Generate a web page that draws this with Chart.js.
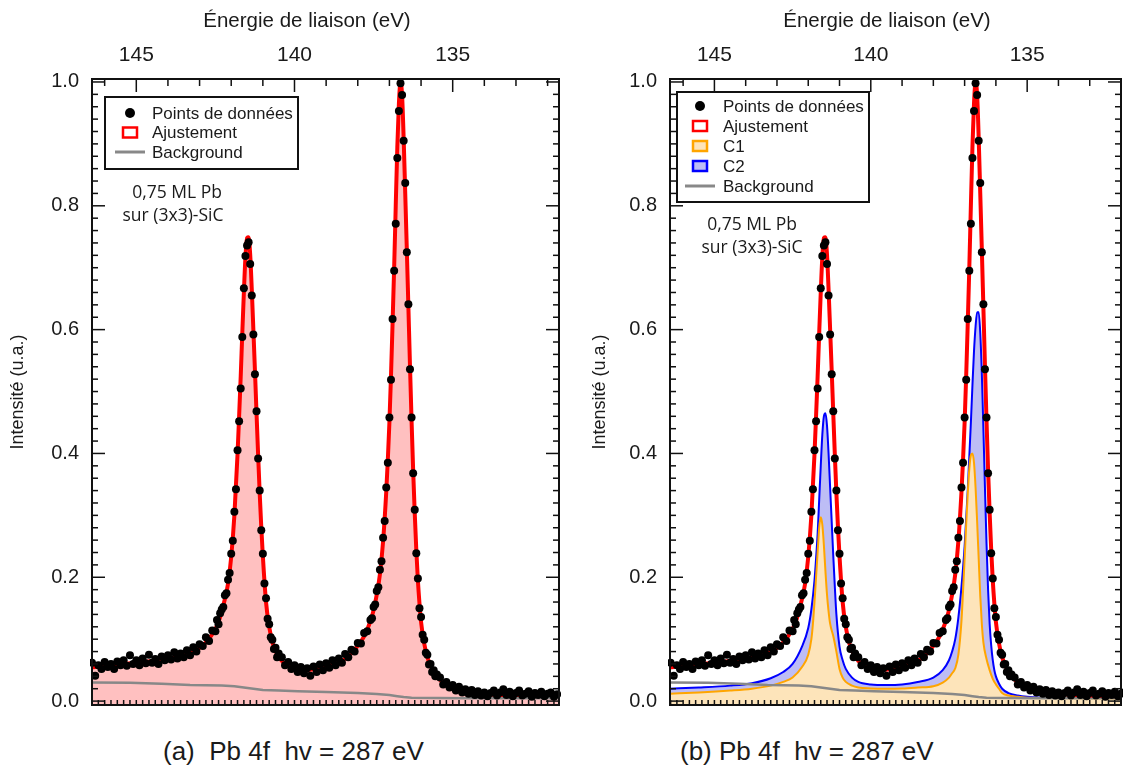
<!DOCTYPE html>
<html lang="fr">
<head>
<meta charset="utf-8">
<title>Pb 4f - 0,75 ML Pb sur (3x3)-SiC</title>
<script src="https://cdn.jsdelivr.net/npm/chart.js@4.4.1/dist/chart.umd.min.js"></script>
<style>
  body { margin: 0; width: 1129px; height: 772px; background: #fff; position: relative; overflow: hidden;
         font-family: "Liberation Sans", Arial, sans-serif; color: #1a1a1a; }
  canvas { position: absolute; top: 0; }
  #chartA { left: 0; }
  #chartB { left: 570px; }
  .note { position: absolute; font-family: "Open Sans", sans-serif; font-size: 17.5px; transform: translate(-50%, -50%); white-space: nowrap; color: #1a1a1a; }
  .xtitle { position: absolute; top: 20px; font-size: 20.5px; transform: translate(-50%, -50%); white-space: nowrap; color: #1a1a1a; }
  .caption { position: absolute; top: 736px; font-size: 26px; white-space: pre; color: #1a1a1a; }
</style>
</head>
<body>
<canvas id="chartA" width="570" height="730"></canvas>
<canvas id="chartB" width="559" height="730"></canvas>

<div class="xtitle" style="left:307px">Énergie de liaison (eV)</div>
<div class="xtitle" style="left:887px">Énergie de liaison (eV)</div>

<div class="note" style="left:177px;top:191px">0,75 ML Pb</div>
<div class="note" style="left:173px;top:214px">sur (3x3)-SiC</div>
<div class="note" style="left:752px;top:223px">0,75 ML Pb</div>
<div class="note" style="left:752px;top:246px">sur (3x3)-SiC</div>

<div class="caption" style="left:163px">(a)  Pb 4f  hv = 287 eV</div>
<div class="caption" style="left:680px">(b) Pb 4f  hv = 287 eV</div>

<script>
// measured points (binding energy in eV, normalised intensity)
const energies = [
  146.4, 146.3, 146.2, 146.1, 146.0, 145.9, 145.8, 145.7, 145.6, 145.5,
  145.4, 145.3, 145.2, 145.1, 145.0, 144.9, 144.8, 144.7, 144.6, 144.5,
  144.4, 144.3, 144.2, 144.1, 144.0, 143.9, 143.8, 143.7, 143.6, 143.5,
  143.4, 143.3, 143.2, 143.1, 143.0, 142.9, 142.8, 142.7, 142.6, 142.5,
  142.45, 142.4, 142.35, 142.3, 142.25, 142.2, 142.15, 142.1, 142.05, 142.0,
  141.95, 141.9, 141.85, 141.8, 141.75, 141.7, 141.65, 141.6, 141.55, 141.5,
  141.45, 141.4, 141.35, 141.3, 141.25, 141.2, 141.15, 141.1, 141.05, 141.0,
  140.95, 140.9, 140.85, 140.8, 140.75, 140.7, 140.65, 140.6, 140.55, 140.5,
  140.4, 140.3, 140.2, 140.1, 140.0, 139.9, 139.8, 139.7, 139.6, 139.5,
  139.4, 139.3, 139.2, 139.1, 139.0, 138.9, 138.8, 138.7, 138.6, 138.5,
  138.4, 138.3, 138.2, 138.1, 138.0, 137.9, 137.8, 137.7, 137.6,
  137.55, 137.5, 137.45, 137.4, 137.35, 137.3, 137.25, 137.2, 137.15, 137.1,
  137.05, 137.0, 136.95, 136.9, 136.85, 136.8, 136.75, 136.7, 136.65, 136.6,
  136.55, 136.5, 136.45, 136.4, 136.35, 136.3, 136.25, 136.2, 136.15, 136.1,
  136.05, 136.0, 135.95, 135.9, 135.85, 135.8, 135.75, 135.7, 135.65, 135.6,
  135.55, 135.5,
  135.4, 135.3, 135.2, 135.1, 135.0, 134.9, 134.8, 134.7, 134.6, 134.5,
  134.4, 134.3, 134.2, 134.1, 134.0, 133.9, 133.8, 133.7, 133.6, 133.5,
  133.4, 133.3, 133.2, 133.1, 133.0, 132.9, 132.8, 132.7, 132.6, 132.5,
  132.4, 132.3, 132.2, 132.1, 132.0, 131.9, 131.8, 131.7
];
const intensities = [
  0.062, 0.041, 0.058, 0.052, 0.063, 0.055, 0.060, 0.052, 0.064, 0.058,
  0.066, 0.057, 0.074, 0.060, 0.066, 0.058, 0.069, 0.061, 0.075, 0.062,
  0.068, 0.060, 0.072, 0.066, 0.074, 0.067, 0.079, 0.069, 0.077, 0.071,
  0.082, 0.074, 0.087, 0.080, 0.092, 0.089, 0.103, 0.097, 0.114, 0.113,
  0.131, 0.124, 0.142, 0.148, 0.152, 0.171, 0.174, 0.196, 0.207, 0.238,
  0.259, 0.306, 0.342, 0.405, 0.452, 0.505, 0.588, 0.667, 0.719, 0.736,
  0.741, 0.706, 0.655, 0.592, 0.528, 0.468, 0.392, 0.340, 0.276, 0.238,
  0.190, 0.166, 0.133, 0.124, 0.103, 0.099, 0.084, 0.086, 0.071, 0.077,
  0.071, 0.058, 0.063, 0.052, 0.058, 0.047, 0.055, 0.045, 0.053, 0.041,
  0.056, 0.047, 0.059, 0.050, 0.061, 0.054, 0.066, 0.058, 0.069, 0.062,
  0.076, 0.071, 0.083, 0.080, 0.094, 0.093, 0.110, 0.113, 0.131,
  0.134, 0.152, 0.156, 0.178, 0.184, 0.212, 0.226, 0.264, 0.291, 0.345,
  0.385, 0.458, 0.519, 0.617, 0.695, 0.771, 0.877, 0.953, 0.998, 0.979,
  0.905, 0.837, 0.725, 0.641, 0.536, 0.458, 0.368, 0.309, 0.239, 0.198,
  0.150, 0.136, 0.107, 0.099, 0.078, 0.075, 0.059, 0.060, 0.047, 0.050,
  0.040, 0.043,
  0.038, 0.027, 0.031, 0.022, 0.026, 0.017, 0.023, 0.014, 0.019, 0.012,
  0.018, 0.010, 0.016, 0.009, 0.014, 0.008, 0.013, 0.017, 0.009, 0.014,
  0.019, 0.010, 0.015, 0.008, 0.013, 0.017, 0.009, 0.012, 0.016, 0.007,
  0.013, 0.010, 0.015, 0.008, 0.012, 0.014, 0.007, 0.011
];

// fitted envelope
const fitEnergies = [
  146.45, 146.0, 145.5, 145.0, 144.5, 144.0, 143.5, 143.0, 142.8, 142.6,
  142.4, 142.3, 142.2, 142.1, 142.0, 141.9, 141.8, 141.75, 141.7, 141.65,
  141.6, 141.55, 141.5, 141.45, 141.4, 141.35, 141.3, 141.25, 141.2, 141.15,
  141.1, 141.05, 141.0, 140.9, 140.8, 140.7, 140.6, 140.4, 140.2, 140.0,
  139.6, 139.2, 138.8, 138.6, 138.4, 138.2, 138.0, 137.8, 137.6, 137.5,
  137.4, 137.3, 137.2, 137.1, 137.05, 137.0, 136.95, 136.9, 136.85, 136.8,
  136.75, 136.7, 136.65, 136.6, 136.55, 136.5, 136.45, 136.4, 136.35, 136.3,
  136.25, 136.2, 136.15, 136.1, 136.05, 136.0, 135.9, 135.8, 135.7, 135.6,
  135.5, 135.3, 135.1, 134.9, 134.6, 134.3, 134.0, 133.5, 133.0, 132.5, 132.0, 131.6
];
const fitValues = [
  0.054, 0.057, 0.0595, 0.062, 0.0648, 0.0685, 0.0738, 0.086, 0.095, 0.108,
  0.128, 0.145, 0.165, 0.190, 0.233, 0.300, 0.399, 0.460, 0.524, 0.594,
  0.660, 0.717, 0.748, 0.749, 0.721, 0.665, 0.600, 0.534, 0.465, 0.398,
  0.336, 0.281, 0.234, 0.160, 0.120, 0.096, 0.081, 0.065, 0.058, 0.054,
  0.0506, 0.0535, 0.0587, 0.0627, 0.0684, 0.0775, 0.0894, 0.1045, 0.129, 0.147,
  0.172, 0.205, 0.258, 0.338, 0.390, 0.450, 0.525, 0.610, 0.700, 0.800,
  0.895, 0.965, 0.999, 0.979, 0.909, 0.820, 0.730, 0.636, 0.542, 0.453,
  0.373, 0.304, 0.244, 0.195, 0.158, 0.128, 0.093, 0.071, 0.057, 0.047,
  0.040, 0.030, 0.024, 0.020, 0.016, 0.0136, 0.0118, 0.0098, 0.009, 0.0084, 0.0078, 0.0075
];

// background
const bgEnergies = [146.45, 145.2, 144.2, 143.3, 142.3, 141.9, 141.6, 141.3, 141.0, 140.5,
  139.9, 139.0, 138.0, 137.4, 137.0, 136.75, 136.55, 136.3, 135.5, 134.5, 131.6];
const bgValues = [0.030, 0.0295, 0.028, 0.026, 0.025, 0.024, 0.022, 0.020, 0.018, 0.017,
  0.016, 0.0145, 0.013, 0.0115, 0.010, 0.008, 0.0065, 0.0055, 0.005, 0.0045, 0.0045];

// component C1 (orange)
const c1Energies = [
  146.45, 145.5, 144.5, 143.8, 143.2, 142.8, 142.5, 142.2, 142.0, 141.9,
  141.85, 141.8, 141.75, 141.7, 141.65, 141.6, 141.55, 141.5, 141.45, 141.4,
  141.35, 141.3, 141.2, 141.1, 141.0, 140.9, 140.8, 140.6, 140.4, 140.0,
  139.5, 139.0, 138.5, 138.0, 137.7, 137.5, 137.4, 137.3, 137.2, 137.1,
  137.05, 137.0, 136.95, 136.9, 136.85, 136.8, 136.75, 136.7, 136.65, 136.6,
  136.55, 136.5, 136.45, 136.4, 136.3, 136.2, 136.1, 136.0, 135.9, 135.8,
  135.6, 135.3, 135.0, 134.0, 131.6
];
const c1Values = [
  0.012, 0.014, 0.017, 0.020, 0.025, 0.031, 0.038, 0.055, 0.075, 0.100,
  0.125, 0.160, 0.200, 0.240, 0.280, 0.297, 0.285, 0.252, 0.210, 0.172,
  0.145, 0.125, 0.105, 0.080, 0.052, 0.038, 0.031, 0.025, 0.022, 0.0205,
  0.020, 0.0205, 0.022, 0.024, 0.030, 0.038, 0.045, 0.053, 0.075, 0.130,
  0.178, 0.230, 0.285, 0.335, 0.375, 0.397, 0.400, 0.385, 0.345, 0.290,
  0.230, 0.170, 0.125, 0.095, 0.068, 0.050, 0.036, 0.027, 0.020, 0.013,
  0.009, 0.007, 0.0055, 0.005, 0.0045
];

// component C2 (blue)
const c2Energies = [
  146.45, 145.5, 144.5, 143.8, 143.2, 142.8, 142.5, 142.2, 142.0, 141.9,
  141.8, 141.75, 141.7, 141.65, 141.6, 141.55, 141.5, 141.45, 141.4, 141.35,
  141.3, 141.25, 141.2, 141.15, 141.1, 141.0, 140.9, 140.8, 140.6, 140.4,
  140.0, 139.5, 139.0, 138.5, 138.0, 137.7, 137.5, 137.4, 137.3, 137.2,
  137.1, 137.0, 136.9, 136.8, 136.75, 136.7, 136.65, 136.6, 136.55, 136.5,
  136.45, 136.4, 136.35, 136.3, 136.25, 136.2, 136.15, 136.1, 136.05, 136.0,
  135.9, 135.8, 135.6, 135.3, 135.0, 134.5, 133.5, 131.6
];
const c2Values = [
  0.020, 0.022, 0.025, 0.029, 0.037, 0.047, 0.060, 0.088, 0.118, 0.148,
  0.195, 0.230, 0.270, 0.325, 0.380, 0.430, 0.460, 0.465, 0.445, 0.400,
  0.345, 0.290, 0.235, 0.185, 0.140, 0.088, 0.066, 0.052, 0.038, 0.031,
  0.027, 0.026, 0.027, 0.031, 0.038, 0.050, 0.066, 0.080, 0.100, 0.135,
  0.185, 0.250, 0.340, 0.450, 0.510, 0.565, 0.605, 0.628, 0.628, 0.595,
  0.530, 0.440, 0.345, 0.255, 0.180, 0.125, 0.090, 0.066, 0.050, 0.040,
  0.028, 0.020, 0.013, 0.009, 0.007, 0.0055, 0.0045, 0.004
];

// axis ticks
const xTickValues = [145, 140, 135];
const yTickValues = [0, 0.2, 0.4, 0.6, 0.8, 1.0];
const yTickLabels = ['0.0', '0.2', '0.4', '0.6', '0.8', '1.0'];

const pts = (xs, ys) => xs.map((x, i) => ({ x: x, y: ys[i] }));

Chart.defaults.font.family = '"Liberation Sans", Arial, sans-serif';
Chart.defaults.color = '#1a1a1a';

// frame with inward ticks on all four sides
const frameTicks = {
  id: 'frameTicks',
  afterDatasetsDraw(chart) {
    const { ctx, chartArea: a } = chart;
    const xs = chart.scales.x, ys = chart.scales.y;
    const seg = (x1, y1, x2, y2) => { ctx.beginPath(); ctx.moveTo(x1, y1); ctx.lineTo(x2, y2); ctx.stroke(); };
    ctx.save();
    ctx.strokeStyle = '#111';
    ctx.lineWidth = 1.5;
    for (let e = Math.ceil(xs.min); e <= xs.max; e++) {
      const px = xs.getPixelForValue(e);
      seg(px, a.top, px, a.top + (e % 5 === 0 ? 13 : 7));
    }
    for (let k = Math.ceil(xs.min * 5); k <= xs.max * 5; k++) {
      const px = xs.getPixelForValue(k / 5);
      seg(px, a.bottom, px, a.bottom - 5);
    }
    for (let k = 0; k <= 50; k++) {
      const py = ys.getPixelForValue(k / 50);
      const len = k % 10 === 0 ? 13 : 6;
      seg(a.left, py, a.left + len, py);
      seg(a.right, py, a.right - len, py);
    }
    ctx.lineWidth = 2;
    ctx.strokeRect(a.left, a.top, a.right - a.left, a.bottom - a.top);
    ctx.restore();
  }
};

// boxed legend placed inside the plot
const boxLegend = {
  id: 'boxLegend',
  afterDraw(chart, args, o) {
    const ctx = chart.ctx;
    ctx.save();
    ctx.fillStyle = '#fff';
    ctx.fillRect(o.x, o.y, o.w, o.h);
    ctx.lineWidth = 2;
    ctx.strokeStyle = '#111';
    ctx.strokeRect(o.x, o.y, o.w, o.h);
    ctx.font = '17px "Liberation Sans", Arial, sans-serif';
    ctx.textBaseline = 'middle';
    o.items.forEach((idx, i) => {
      const ds = chart.data.datasets[idx];
      const cy = o.row0 + i * o.gap;
      if (ds.showLine === false) {
        ctx.fillStyle = '#000';
        ctx.beginPath(); ctx.arc(o.mark, cy, 5, 0, Math.PI * 2); ctx.fill();
      } else if (ds.legendFill) {
        ctx.fillStyle = ds.legendFill;
        ctx.fillRect(o.mark - 7, cy - 5, 14, 10);
        ctx.lineWidth = 2.5;
        ctx.strokeStyle = ds.borderColor;
        ctx.strokeRect(o.mark - 7, cy - 5, 14, 10);
      } else {
        ctx.lineWidth = 3;
        ctx.strokeStyle = ds.borderColor;
        ctx.beginPath(); ctx.moveTo(o.mark - 15, cy); ctx.lineTo(o.mark + 15, cy); ctx.stroke();
      }
      ctx.fillStyle = '#1a1a1a';
      ctx.fillText(ds.label, o.text, cy + 1);
    });
    ctx.restore();
  }
};

function scalesFor(xMin, xMax, yWidth, yTitlePad) {
  return {
    x: {
      type: 'linear', position: 'top', reverse: true, min: xMin, max: xMax,
      afterBuildTicks: s => { s.ticks = xTickValues.map(v => ({ value: v })); },
      afterFit: s => { s.height = 79; },
      grid: { display: false, drawTicks: false }, border: { display: false },
      ticks: { font: { size: 21 }, padding: 11, maxRotation: 0, autoSkip: false }
    },
    y: {
      min: -0.0063, max: 1.0048,
      afterBuildTicks: s => { s.ticks = yTickValues.map(v => ({ value: v })); },
      afterFit: s => { s.width = yWidth; },
      grid: { display: false, drawTicks: false }, border: { display: false },
      ticks: { font: { size: 20 }, padding: 13, callback: (v, i) => yTickLabels[i] },
      title: { display: true, text: 'Intensité (u.a.)', font: { size: 18 }, padding: { top: yTitlePad, bottom: 0 } }
    }
  };
}

const pointsSet = () => ({
  label: 'Points de données', data: pts(energies, intensities), showLine: false,
  pointRadius: 4, pointBackgroundColor: '#000', pointBorderWidth: 0, order: 0, clip: 2
});
const bgSet = order => ({
  label: 'Background', data: pts(bgEnergies, bgValues), borderColor: '#888', borderWidth: 2.5,
  pointRadius: 0, fill: false, tension: 0, order: order
});

new Chart(document.getElementById('chartA'), {
  type: 'line',
  data: {
    datasets: [
      pointsSet(),
      {
        label: 'Ajustement', data: pts(fitEnergies, fitValues), borderColor: '#ff0000', borderWidth: 4,
        backgroundColor: '#ffc0c0', fill: 'start', pointRadius: 0, cubicInterpolationMode: 'monotone',
        order: 2, legendFill: '#fff'
      },
      bgSet(1)
    ]
  },
  options: {
    responsive: false, animation: false, events: [],
    layout: { padding: { left: 0, right: 11, top: 0, bottom: 14 } },
    scales: scalesFor(131.64, 146.40, 92, 7),
    plugins: {
      legend: { display: false }, tooltip: { enabled: false },
      boxLegend: { x: 105, y: 97, w: 193, h: 72, row0: 113, gap: 19.5, mark: 130, text: 152, items: [0, 1, 2] }
    }
  },
  plugins: [frameTicks, boxLegend]
});

new Chart(document.getElementById('chartB'), {
  type: 'line',
  data: {
    datasets: [
      pointsSet(),
      {
        label: 'Ajustement', data: pts(fitEnergies, fitValues), borderColor: '#ff0000', borderWidth: 4,
        fill: false, pointRadius: 0, cubicInterpolationMode: 'monotone', order: 1, legendFill: '#fff'
      },
      bgSet(2),
      {
        label: 'C1', data: pts(c1Energies, c1Values), borderColor: '#ffa500', borderWidth: 2,
        backgroundColor: '#fde4ba', fill: 'start', pointRadius: 0, cubicInterpolationMode: 'monotone',
        order: 3, legendFill: '#fde4ba'
      },
      {
        label: 'C2', data: pts(c2Energies, c2Values), borderColor: '#0000ff', borderWidth: 2,
        backgroundColor: '#bdbdf5', fill: 'start', pointRadius: 0, cubicInterpolationMode: 'monotone',
        order: 4, legendFill: '#bdbdf5'
      }
    ]
  },
  options: {
    responsive: false, animation: false, events: [],
    layout: { padding: { left: 0, right: 8, top: 0, bottom: 14 } },
    scales: scalesFor(132.0, 146.42, 100, 19),
    plugins: {
      legend: { display: false }, tooltip: { enabled: false },
      boxLegend: { x: 107, y: 92, w: 192, h: 110, row0: 106, gap: 20, mark: 130, text: 153, items: [0, 1, 3, 4, 2] }
    }
  },
  plugins: [frameTicks, boxLegend]
});
</script>
</body>
</html>
